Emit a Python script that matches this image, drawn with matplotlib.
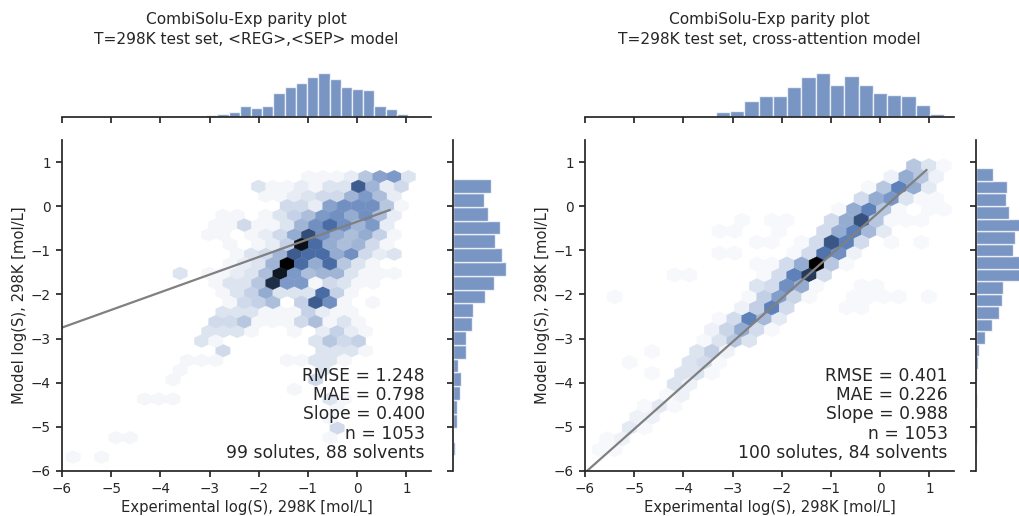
import numpy as np
import matplotlib
matplotlib.use("Agg")
import matplotlib.pyplot as plt
import colorsys
from matplotlib.colors import LinearSegmentedColormap, to_rgb, Normalize

# ---------------- data ----------------
titles = ["CombiSolu-Exp parity plot\nT=298K test set, <REG>,<SEP> model",
          "CombiSolu-Exp parity plot\nT=298K test set, cross-attention model"]
xlabel = "Experimental log(S), 298K [mol/L]"
ylabel = "Model log(S), 298K [mol/L]"
stats_left = ["RMSE = 1.248", "MAE = 0.798", "Slope = 0.400", "n = 1053", "99 solutes, 88 solvents"]
stats_right = ["RMSE = 0.401", "MAE = 0.226", "Slope = 0.988", "n = 1053", "100 solutes, 84 solvents"]

x_ticks = [-6, -5, -4, -3, -2, -1, 0, 1]
y_ticks = [-6, -5, -4, -3, -2, -1, 0, 1]

# regression lines: slope, intercept, x-span
left_fit = [0.400, -0.35]
left_fit_x = [-6.0, 0.66]
right_fit = [0.988, -0.11]
right_fit_x = [-6.0, 0.94]

# hexbin cells (row y, x centres, counts) -- left model
left_rows_y = [0.67, 0.45, 0.23, 0.01, -0.21, -0.43, -0.65, -0.87, -1.09, -1.30,
               -1.52, -1.74, -1.96, -2.18, -2.40, -2.62, -2.84, -3.06, -3.28, -3.49,
               -3.71, -3.93, -4.15, -4.37, -4.59, -4.81, -5.03, -5.25, -5.68]
left_rows_x = [
    [-0.99, -0.70, -0.41, -0.12, 0.17, 0.46, 0.75, 1.04],
    [-2.00, -1.71, -1.42, -1.13, -0.84, -0.55, -0.26, 0.03, 0.32, 0.61, 0.90],
    [-1.86, -1.57, -1.28, -0.99, -0.70, -0.41, -0.12, 0.17, 0.46, 0.75],
    [-1.42, -1.13, -0.84, -0.55, -0.26, 0.03, 0.32, 0.61, 0.90],
    [-2.73, -2.44, -1.86, -1.57, -1.28, -0.99, -0.70, -0.41, -0.12, 0.17, 0.46, 0.75],
    [-2.87, -2.58, -2.29, -2.00, -1.71, -1.42, -1.13, -0.84, -0.55, -0.26, 0.03, 0.32, 0.61],
    [-3.02, -2.73, -2.15, -1.86, -1.57, -1.28, -0.99, -0.70, -0.41, -0.12, 0.17, 0.46, 0.75],
    [-2.58, -2.00, -1.71, -1.42, -1.13, -0.84, -0.55, -0.26, 0.03, 0.32, 0.61],
    [-2.44, -2.15, -1.86, -1.57, -1.28, -0.99, -0.70, -0.41, -0.12, 0.17, 0.46, 0.75],
    [-2.58, -2.29, -2.00, -1.71, -1.42, -1.13, -0.84, -0.55, -0.26, 0.03, 0.32],
    [-3.60, -3.02, -2.73, -2.44, -2.15, -1.86, -1.57, -1.28, -0.99, -0.70, -0.41, -0.12, 0.17, 0.46, 0.75],
    [-2.87, -2.58, -2.29, -2.00, -1.71, -1.42, -1.13, -0.84, -0.55, -0.26, 0.03, 0.32],
    [-2.73, -2.44, -2.15, -1.86, -1.57, -1.28, -0.99, -0.70, -0.41, -0.12],
    [-2.58, -2.29, -2.00, -1.71, -1.13, -0.84, -0.55, -0.26, 0.32],
    [-2.73, -2.44, -2.15, -1.86, -1.57, -1.28, -0.99, -0.70, -0.41, -0.12],
    [-2.87, -2.58, -2.29, -2.00, -1.71, -1.42, -1.13, -0.84, -0.55, -0.26, 0.03],
    [-3.02, -2.73, -2.44, -2.15, -1.28, -0.70, -0.41, -0.12, 0.17],
    [-3.16, -2.87, -0.84, -0.55, -0.26, 0.03],
    [-2.73, -0.70, -0.41, -0.12, 0.17],
    [-3.45, -3.16, -2.87, -1.42, -1.13, -0.84, -0.55, -0.26],
    [-3.60, -0.70],
    [-3.74, -0.84],
    [-1.28],
    [-4.32, -4.03, -3.74, -0.55, -0.26],
    [-0.41],
    [-0.55],
    [-0.41],
    [-4.90, -4.61, -0.55],
    [-5.77, -5.19],
]
left_rows_n = [
    [1, 1, 1, 2, 6, 10, 11, 3],
    [3, 1, 1, 2, 1, 3, 3, 18, 8, 2, 4],
    [1, 1, 2, 3, 4, 4, 8, 11, 7, 2],
    [4, 4, 2, 10, 12, 12, 12, 6, 1],
    [1, 1, 1, 3, 5, 7, 11, 12, 9, 12, 7, 2],
    [1, 1, 4, 1, 1, 3, 8, 12, 16, 12, 8, 11, 2],
    [1, 1, 1, 2, 4, 9, 20, 12, 9, 7, 9, 5, 1],
    [1, 1, 2, 5, 28, 16, 9, 7, 8, 4, 1],
    [1, 3, 4, 8, 18, 16, 16, 9, 12, 4, 2, 3],
    [1, 2, 3, 8, 30, 16, 9, 16, 6, 3, 1],
    [3, 1, 1, 2, 3, 7, 27, 11, 7, 8, 8, 3, 1, 1, 1],
    [1, 3, 3, 6, 24, 11, 11, 1, 4, 3, 1, 1],
    [1, 3, 5, 9, 3, 3, 3, 16, 5, 1],
    [1, 4, 5, 7, 5, 18, 12, 1, 1],
    [3, 3, 3, 1, 1, 1, 5, 2, 1, 1],
    [4, 4, 6, 1, 1, 1, 4, 7, 1, 3, 1],
    [3, 3, 3, 1, 1, 2, 5, 2, 1],
    [3, 1, 3, 6, 4, 5],
    [4, 3, 3, 3, 1],
    [1, 1, 1, 1, 1, 3, 3, 1],
    [1, 3],
    [1, 4],
    [1],
    [1, 1, 1, 3, 1],
    [1],
    [1],
    [4],
    [1, 1, 1],
    [1, 1],
]

# hexbin cells -- cross-attention model
right_rows_y = [0.92, 0.67, 0.42, 0.17, -0.07, -0.32, -0.57, -0.82, -1.06, -1.31,
                -1.56, -1.81, -2.05, -2.30, -2.55, -2.80, -3.04, -3.29, -3.54, -3.79,
                -4.03, -4.28, -4.53, -4.78, -5.02, -5.27, -5.52]
right_rows_x = [
    [0.68, 0.99, 1.29],
    [0.23, 0.53, 0.84, 1.14],
    [-0.23, 0.08, 0.38, 0.68, 0.99],
    [-0.38, -0.08, 0.23, 0.53, 0.84, 1.14],
    [-0.84, -0.53, -0.23, 0.08, 0.38, 0.99, 1.29],
    [-2.81, -2.21, -1.90, -0.99, -0.69, -0.38, -0.08, 0.23, 0.53, 0.84],
    [-3.27, -2.97, -2.05, -1.14, -0.84, -0.53, -0.23, 0.08],
    [-2.51, -2.21, -1.60, -1.29, -0.99, -0.69, -0.38, 0.23, 0.84],
    [-3.27, -2.97, -1.75, -1.45, -1.14, -0.84, -0.53],
    [-2.51, -2.21, -1.90, -1.60, -1.29, -0.99, -0.69],
    [-4.18, -3.88, -2.36, -2.05, -1.75, -1.45, -1.14],
    [-2.51, -2.21, -1.90, -1.60, -1.29, -0.38, -0.08],
    [-5.40, -2.66, -2.36, -2.05, -1.75, -1.45, -0.53, -0.23, 0.08, 0.38, 0.99],
    [-2.81, -2.51, -2.21, -1.90, -0.69, -0.38],
    [-3.27, -2.97, -2.66, -2.36, -2.05],
    [-3.42, -3.12, -2.81, -2.51, -2.21],
    [-3.57, -3.27, -2.97, -2.66],
    [-4.64, -3.73, -3.42, -3.12],
    [-5.09, -3.88, -3.57, -3.27],
    [-4.64, -4.03, -3.73, -3.42],
    [-4.18, -3.88],
    [-4.33, -4.03],
    [-4.79, -4.49, -4.18],
    [-4.94, -4.64],
    [-5.09, -4.79],
    [-5.55, -5.25],
    [-5.70, -5.40],
]
right_rows_n = [
    [8, 4, 1],
    [2, 12, 8, 2],
    [1, 8, 18, 12, 3],
    [5, 12, 15, 4, 1, 1],
    [1, 12, 18, 8, 1, 1, 1],
    [1, 1, 1, 5, 12, 26, 8, 1, 1, 1],
    [1, 1, 1, 5, 12, 18, 10, 3],
    [1, 1, 1, 5, 25, 18, 5, 1, 1],
    [1, 1, 1, 5, 20, 16, 2],
    [1, 1, 5, 12, 40, 8, 1],
    [1, 1, 1, 5, 18, 30, 5],
    [4, 5, 16, 12, 1, 1, 1],
    [1, 1, 7, 14, 6, 1, 1, 1, 1, 1, 1],
    [2, 7, 18, 5, 1, 1],
    [1, 5, 18, 10, 3],
    [2, 6, 12, 5, 1],
    [1, 4, 8, 4],
    [1, 4, 7, 2],
    [1, 4, 5, 1],
    [1, 4, 4, 1],
    [4, 2],
    [1, 2],
    [1, 3, 1],
    [2, 2],
    [3, 1],
    [1, 2],
    [1, 1],
]

# marginal histograms (first bin edge, bin width, counts from low to high)
left_xhist_start, left_xhist_width = -5.806, 0.228
left_xhist_counts = [1, 0, 1, 0, 1, 1, 1, 1, 0, 3, 2, 3,
                     7, 10, 15, 32, 27, 32, 69, 86, 97, 117, 127, 109, 86, 81, 78, 32, 24, 9]
left_yhist_start, left_yhist_width = -5.646, 0.313
left_yhist_counts = [4, 1, 8, 9, 16, 18, 11, 30, 30, 43, 46, 74, 93, 120, 112, 96, 108, 80, 70, 86]
right_xhist_start, right_xhist_width = -5.95, 0.29
right_xhist_counts = [1, 1, 2, 2, 2, 2, 2, 2,
                      4, 14, 17, 44, 59, 59, 83, 112, 122, 90, 115, 88, 68, 61, 59, 34, 9]
right_yhist_start, right_yhist_width = -5.391, 0.284
right_yhist_counts = [2, 2, 0, 2, 0, 2, 4, 8, 23, 40, 56, 64, 66, 108, 108, 91, 97, 108, 80, 74, 76, 43]

# ---------------- style ----------------
TXT = "#262626"
plt.rcParams.update({
    "font.family": ["DejaVu Sans"],
    "text.color": TXT,
    "axes.edgecolor": TXT,
    "axes.labelcolor": TXT,
    "xtick.color": TXT,
    "ytick.color": TXT,
    "axes.linewidth": 1.25,
    "xtick.major.width": 1.25,
    "ytick.major.width": 1.25,
    "xtick.major.size": 4.5,
    "ytick.major.size": 4.5,
    "xtick.labelsize": 9.8,
    "ytick.labelsize": 9.8,
    "axes.labelsize": 10.6,
})

base = to_rgb("#4C72B0")
h, l, s = colorsys.rgb_to_hls(*base)
hex_cmap = LinearSegmentedColormap.from_list(
    "sb_hex", [colorsys.hls_to_rgb(h, lv, s) for lv in np.linspace(1, 0, 12)])

W, H = 1020, 516
fig = plt.figure(figsize=(W / 100, H / 100), dpi=100)


def px_rect(x0, x1, y0, y1):
    return [x0 / W, 1 - y1 / H, (x1 - x0) / W, (y1 - y0) / H]


panels = [
    dict(x0=62, title=titles[0], rows_y=left_rows_y, rows_x=left_rows_x, rows_n=left_rows_n,
         grid=(27, 17), extent=(-6.209, 1.621, -5.903, 1.543), fit=left_fit, fit_x=left_fit_x,
         stats=stats_left, xh=(left_xhist_start, left_xhist_width, left_xhist_counts), xh_top=191,
         yh=(left_yhist_start, left_yhist_width, left_yhist_counts), yh_top=169),
    dict(x0=585, title=titles[1], rows_y=right_rows_y, rows_x=right_rows_x, rows_n=right_rows_n,
         grid=(25, 15), extent=(-6.005, 1.595, -6.014, 1.411), fit=right_fit, fit_x=right_fit_x,
         stats=stats_right, xh=(right_xhist_start, right_xhist_width, right_xhist_counts), xh_top=184,
         yh=(right_yhist_start, right_yhist_width, right_yhist_counts), yh_top=182),
]

for p in panels:
    x0 = p["x0"]
    ax = fig.add_axes(px_rect(x0, x0 + 369, 140, 471))
    axx = fig.add_axes(px_rect(x0, x0 + 369, 51, 117), sharex=ax)
    axy = fig.add_axes(px_rect(x0 + 391, x0 + 465, 140, 471), sharey=ax)

    hx = np.concatenate([np.asarray(r, float) for r in p["rows_x"]])
    hy = np.concatenate([np.full(len(r), yv) for r, yv in zip(p["rows_x"], p["rows_y"])])
    hn = np.concatenate([np.asarray(r, float) for r in p["rows_n"]])
    ax.hexbin(hx, hy, C=hn, reduce_C_function=np.sum, gridsize=p["grid"],
              extent=p["extent"], cmap=hex_cmap, norm=Normalize(0, hn.max()),
              edgecolors="face", linewidths=0.3)

    fx = np.array(p["fit_x"])
    ax.plot(fx, p["fit"][0] * fx + p["fit"][1], color="#808080", lw=1.6)

    ax.set_xlim(-6, 1.5)
    ax.set_ylim(-6, 1.5)
    ax.set_xticks(x_ticks)
    ax.set_yticks(y_ticks)
    ax.set_xlabel(xlabel, labelpad=3)
    ax.set_ylabel(ylabel, labelpad=3)
    for sp in ("top", "right"):
        ax.spines[sp].set_visible(False)
    ax.text(0.983, 0.028, "\n".join(p["stats"]), transform=ax.transAxes,
            ha="right", va="bottom", fontsize=12.3, linespacing=1.08, color=TXT)

    # top marginal
    st, wd, cn = p["xh"]
    edges = st + wd * np.arange(len(cn) + 1)
    axx.bar(edges[:-1], cn, width=wd, align="edge", color="#4C72B0", alpha=0.75,
            edgecolor="white", linewidth=1.0)
    axx.set_ylim(0, p["xh_top"])
    axx.tick_params(axis="x", labelbottom=False)
    axx.yaxis.set_visible(False)
    for sp in ("top", "right", "left"):
        axx.spines[sp].set_visible(False)

    # right marginal
    st, wd, cn = p["yh"]
    edges = st + wd * np.arange(len(cn) + 1)
    axy.barh(edges[:-1], cn, height=wd, align="edge", color="#4C72B0", alpha=0.75,
             edgecolor="white", linewidth=1.0)
    axy.set_xlim(0, p["yh_top"])
    axy.tick_params(axis="y", labelleft=False)
    axy.xaxis.set_visible(False)
    for sp in ("top", "right", "bottom"):
        axy.spines[sp].set_visible(False)

    fig.text((x0 + 184.5) / W, 1 - 29.5 / H, p["title"], ha="center", va="center",
             fontsize=11.1, linespacing=1.4, color=TXT)

fig.savefig("out.png", dpi=100)
